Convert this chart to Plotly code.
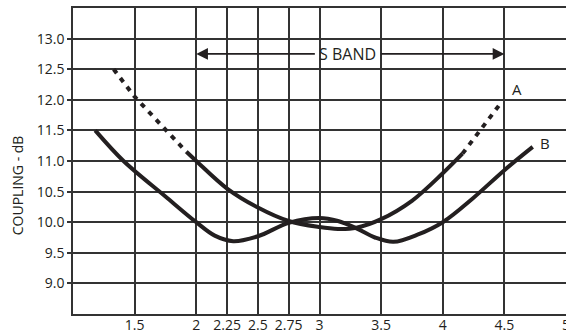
import plotly.graph_objects as go

# Curve A (upper): dotted ends, solid middle
a_left_x = [1.33, 1.5, 1.92]
a_left_y = [12.5, 12.05, 11.15]
a_mid_x = [1.92, 2.0, 2.25, 2.5, 2.75, 3.0, 3.15, 3.3, 3.5, 3.75, 4.0, 4.16]
a_mid_y = [11.15, 11.0, 10.55, 10.24, 10.02, 9.92, 9.89, 9.91, 10.05, 10.35, 10.8, 11.12]
a_right_x = [4.16, 4.3, 4.48]
a_right_y = [11.12, 11.5, 11.97]

# Curve B (lower): solid
b_x = [1.18, 1.41, 1.75, 2.0, 2.15, 2.3, 2.5, 2.75, 3.0, 3.15, 3.3, 3.45, 3.6, 3.8, 4.0, 4.25, 4.5, 4.73]
b_y = [11.5, 11.0, 10.42, 10.0, 9.78, 9.69, 9.77, 9.99, 10.07, 10.02, 9.9, 9.75, 9.68, 9.8, 10.0, 10.4, 10.85, 11.23]

x_ticks = [1.5, 2, 2.25, 2.5, 2.75, 3, 3.5, 4, 4.5, 5]
x_labels = ["1.5", "2", "2.25", "2.5", "2.75", "3", "3.5", "4", "4.5", "5"]
y_ticks = [9.0, 9.5, 10.0, 10.5, 11.0, 11.5, 12.0, 12.5, 13.0]
y_labels = ["9.0", "9.5", "10.0", "10.5", "11.0", "11.5", "12.0", "12.5", "13.0"]

INK = "#231f20"
GRID = "#333333"
LW = 4
FAM = "Open Sans, Noto Sans, sans-serif"

fig = go.Figure()
fig.add_trace(go.Scatter(x=a_left_x, y=a_left_y, mode="lines",
                         line=dict(color=INK, width=LW, dash="5px,6px")))
fig.add_trace(go.Scatter(x=a_mid_x, y=a_mid_y, mode="lines",
                         line=dict(color=INK, width=LW, shape="spline", smoothing=1.0)))
fig.add_trace(go.Scatter(x=a_right_x, y=a_right_y, mode="lines",
                         line=dict(color=INK, width=LW, dash="5px,6px")))
fig.add_trace(go.Scatter(x=b_x, y=b_y, mode="lines",
                         line=dict(color=INK, width=LW, shape="spline", smoothing=1.0)))

font = dict(family=FAM, size=14, color=INK)

ann = []
for head_x, fc in [(2.0, INK), (4.5, "rgba(0,0,0,0)")]:
    ann.append(dict(x=head_x, y=12.75, xref="x", yref="y", ax=3.23, ay=12.75,
                    axref="x", ayref="y", text="S BAND", showarrow=True,
                    arrowhead=2, arrowsize=1.3, arrowwidth=1.8, arrowcolor=INK,
                    borderpad=4, font=dict(family=FAM, size=16, color=fc)))
ann.append(dict(x=4.6, y=12.17, xref="x", yref="y", text="A", showarrow=False,
                font=dict(family=FAM, size=15, color=INK)))
ann.append(dict(x=4.83, y=11.3, xref="x", yref="y", text="B", showarrow=False,
                font=dict(family=FAM, size=15, color=INK)))
ann.append(dict(x=-0.112, y=10.6, xref="paper", yref="y", text="COUPLING - dB",
                textangle=-90, showarrow=False, xanchor="center", yanchor="middle",
                font=dict(family=FAM, size=14, color=INK)))

fig.update_layout(
    width=566, height=335,
    margin=dict(l=73, r=0, t=8, b=21),
    paper_bgcolor="white", plot_bgcolor="white",
    showlegend=False,
    font=font,
    annotations=ann,
    xaxis=dict(range=[1, 5], tickvals=x_ticks, ticktext=x_labels,
               showgrid=True, gridcolor=GRID, gridwidth=1.5,
               showline=True, linecolor=GRID, linewidth=1.5, mirror=True,
               ticks="", zeroline=False, tickfont=font, automargin=False,
               ticklabelstandoff=-3, ticklabeloverflow="allow"),
    yaxis=dict(range=[8.5, 13.5], tickvals=y_ticks, ticktext=y_labels,
               showgrid=True, gridcolor=GRID, gridwidth=1.5,
               showline=True, linecolor=GRID, linewidth=1.5, mirror=True,
               ticks="outside", ticklen=4, tickcolor=GRID, tickwidth=1.5,
               zeroline=False, tickfont=font, automargin=False),
)

fig.write_html("out.html", config={"displayModeBar": False},
               post_script="document.body.style.margin='0';document.body.style.overflow='hidden';")
